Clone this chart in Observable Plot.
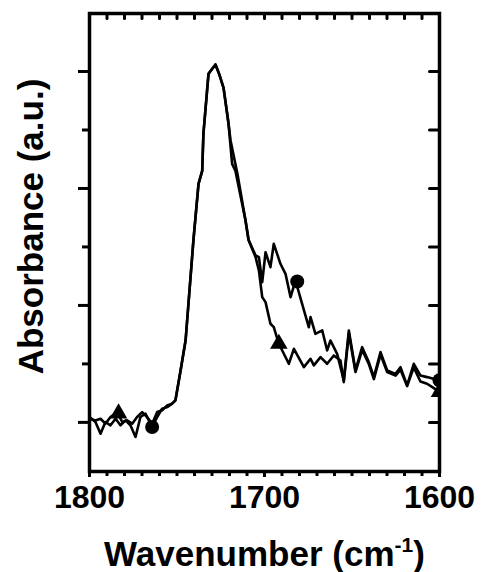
<!DOCTYPE html>
<html><head><meta charset="utf-8">
<script src="https://cdn.jsdelivr.net/npm/d3@7"></script>
<script src="https://cdn.jsdelivr.net/npm/@observablehq/plot@0.6"></script>
<style>body{margin:0;background:#fff}</style>
</head><body><div id="chart"></div>
<script>
// Spectrum marked with circles
const circleWn  = [1800,1796.6,1793.7,1790.9,1788.0,1785.1,1782.3,1779.4,1776.6,1773.7,1770.9,1768.0,1764.2,1761.3,1758.5,1755.6,1752.8,1750.9,
  1748.0,1745.1,1740.6,1737.7,1735.6,1734.9,1732.0,1730.5,1728.0,1725.7,1723.4,1720.6,1718.5,1716.6,1710.9,1709.1,
  1705.1,1703.2,1701.3,1699.4,1696.6,1694.7,1690.9,1688.0,1685.1,1682.3,1678.5,1674.7,1673.7,1670.9,1667.0,1664.2,1662.3,1658.5,
  1654.7,1651.8,1648.0,1644.2,1640.4,1637.5,1633.7,1629.9,1625.1,1622.3,1618.5,1614.7,1610.9,1607.1,1603.0,1600];
const circleAbs = [0.046,0.003,-0.097,0.003,-0.025,0.031,-0.025,0.017,-0.025,-0.125,0.046,0.074,-0.040,0.046,0.117,0.131,0.160,0.188,
  0.44,0.70,1.56,2.04,2.15,2.47,2.98,3.01,3.06,2.97,2.86,2.56,2.21,2.15,1.73,1.56,
  1.427,1.413,1.199,1.455,1.327,1.527,1.356,1.270,1.071,1.213,1.014,0.814,0.900,0.757,0.786,0.615,0.700,0.586,
  0.36,0.786,0.444,0.643,0.515,0.387,0.601,0.444,0.415,0.472,0.316,0.501,0.401,0.387,0.37,0.36];
// Spectrum marked with triangles
const triWn  = [1800,1796.6,1793.7,1790.9,1788.0,1784.2,1781.3,1778.5,1775.6,1772.8,1769.9,1767.1,1764.2,1761.3,1758.5,1755.6,1752.8,1750.9,
  1748.0,1745.1,1740.6,1737.7,1735.6,1734.9,1732.0,1730.5,1728.0,1725.7,1723.4,1720.6,1719.4,1715.4,1710.9,1709.1,
  1705.1,1703.2,1701.3,1699.4,1696.6,1694.7,1691.8,1686.1,1683.2,1677.5,1673.7,1671.8,1668.0,1664.2,1660.4,1656.6,
  1654.7,1651.8,1648.0,1644.2,1640.4,1637.5,1633.7,1629.9,1625.1,1622.3,1618.5,1614.7,1610.9,1607.1,1603.0,1600];
const triAbs = [0.031,0.017,0.031,-0.011,0.046,0.088,0.003,0.017,-0.011,0.046,0.088,0.046,-0.011,0.088,0.103,0.145,0.160,0.188,
  0.44,0.70,1.56,2.04,2.15,2.47,2.98,3.01,3.06,2.97,2.86,2.56,2.41,2.12,1.73,1.56,
  1.413,1.299,1.071,1.028,0.843,0.814,0.672,0.501,0.629,0.472,0.544,0.487,0.558,0.501,0.572,0.529,
  0.344,0.76,0.43,0.62,0.50,0.37,0.58,0.43,0.40,0.45,0.31,0.47,0.35,0.33,0.29,0.26];
// Marker positions
const circleMarkWn = [1764.2,1681.3,1600];
const circleMarkAbs = [-0.04,1.205,0.36];
const triMarkWn = [1783.4,1691.8,1600];
const triMarkAbs = [0.077,0.672,0.26];
// Ticks and labels
const xMajor = [1800,1700,1600];
const xMinor = [1800,1790,1780,1770,1760,1750,1740,1730,1720,1710,1700,1690,1680,1670,1660,1650,1640,1630,1620,1610,1600];
const yMajor = [0,1,2,3];
const yMinor = [0.5,1.5,2.5];
const xLabel = "Wavenumber (cm";
const xLabelSup = "-1";
const yLabel = "Absorbance (a.u.)";

const circleData = circleWn.map((w,i) => ({wn: w, abs: circleAbs[i]}));
const triData = triWn.map((w,i) => ({wn: w, abs: triAbs[i]}));
const circleMarks = circleMarkWn.map((w,i) => ({wn: w, abs: circleMarkAbs[i]}));
const triMarks = triMarkWn.map((w,i) => ({wn: w, abs: triMarkAbs[i]}));

const tickShape = {draw(context, l) { context.moveTo(0, 0); context.lineTo(0, -l); }};
const font = "'Liberation Sans', Arial, Helvetica, sans-serif";

const chart = Plot.plot({
  width: 481, height: 572,
  marginLeft: 89, marginRight: 42, marginTop: 13, marginBottom: 101,
  style: {fontFamily: font, background: "white", color: "black", overflow: "visible"},
  x: {domain: [1800, 1600], label: null},
  y: {domain: [-0.42, 3.496], label: null},
  marks: [
    Plot.line(circleData, {x: "wn", y: "abs", stroke: "black", strokeWidth: 2.6, clip: true}),
    Plot.line(triData, {x: "wn", y: "abs", stroke: "black", strokeWidth: 2.6, clip: true}),
    Plot.dot(circleMarks, {x: "wn", y: "abs", symbol: "circle", r: 7, fill: "black", clip: true}),
    Plot.dot(triMarks, {x: "wn", y: "abs", symbol: "triangle", r: 6.5, fill: "black", clip: true}),
    Plot.frame({strokeWidth: 3.5}),
    Plot.axisX(xMinor, {anchor: "bottom", tickSize: 5, strokeWidth: 3, tickFormat: () => "", label: null}),
    Plot.axisX(xMajor, {anchor: "bottom", tickSize: 6, tickPadding: 8, strokeWidth: 3, fontSize: 32, fontWeight: "bold", tickFormat: d => String(d), label: null}),
    Plot.axisY(yMajor, {anchor: "left", tickSize: 11, strokeWidth: 3, tickFormat: () => "", label: null}),
    Plot.axisY(yMinor, {anchor: "left", tickSize: 7, strokeWidth: 3, tickFormat: () => "", label: null}),
    Plot.vector(xMinor, {x: d => d, frameAnchor: "top", length: 5, rotate: 180, anchor: "start", shape: tickShape, strokeWidth: 3}),
    Plot.vector(yMajor.concat(yMinor), {y: d => d, frameAnchor: "right", length: 10, rotate: -90, anchor: "start", shape: tickShape, strokeWidth: 3}),
    Plot.text([yLabel], {frameAnchor: "left", textAnchor: "middle", lineAnchor: "middle", rotate: -90, dx: -58, dy: -16, fontSize: 35, fontWeight: "bold"}),
    Plot.text([xLabel], {frameAnchor: "bottom", textAnchor: "middle", lineAnchor: "middle", dy: 83, fontSize: 35, fontWeight: "bold"})
  ]
});
document.getElementById("chart").appendChild(chart);

// superscript on the x label
d3.select(chart).selectAll("text").filter(function() { return this.textContent === xLabel; }).each(function() {
  const t = d3.select(this);
  t.text(null);
  t.append("tspan").text(xLabel);
  t.append("tspan").attr("font-size", 21).attr("dy", -14).text(xLabelSup);
  t.append("tspan").attr("dy", 14).text(")");
});
</script>
</body></html>
